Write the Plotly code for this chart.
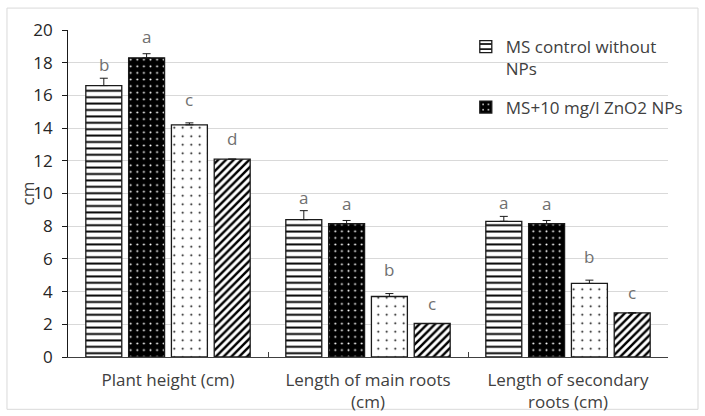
import plotly.graph_objects as go

categories = ["Plant height (cm)", "Length of main roots<br>(cm)", "Length of secondary<br>roots (cm)"]
series_names = ["MS control without<br>NPs", "MS+10 mg/l ZnO2 NPs", "Treatment 3", "Treatment 4"]
values = [
    [16.6, 8.4, 8.3],
    [18.3, 8.15, 8.15],
    [14.2, 3.7, 4.5],
    [12.1, 2.05, 2.7],
]
errors = [
    [0.45, 0.55, 0.3],
    [0.25, 0.2, 0.2],
    [0.12, 0.18, 0.2],
    [0.0, 0.0, 0.0],
]
letters = [
    ["b", "a", "a"],
    ["a", "a", "a"],
    ["c", "b", "b"],
    ["d", "c", "c"],
]

patterns = [
    dict(shape="-", fgcolor="#000000", bgcolor="#ffffff", size=6.4, solidity=0.3, fillmode="replace"),
    dict(shape=".", fgcolor="#ffffff", bgcolor="#000000", size=6.6, solidity=0.07, fillmode="replace"),
    dict(shape=".", fgcolor="#000000", bgcolor="#ffffff", size=8.5, solidity=0.04, fillmode="replace"),
    dict(shape="/", fgcolor="#000000", bgcolor="#ffffff", size=5.5, solidity=0.45, fillmode="replace"),
]
legend_ids = ["legend", "legend2", None, None]
letter_shift = [13.6, 17.2, 23.7, 20.4]

bargap = 0.144
bargroupgap = 0.16
FS = 17

fig = go.Figure()
for i in range(4):
    fig.add_trace(go.Bar(
        x=categories, y=values[i], name=series_names[i],
        marker=dict(color=patterns[i]["bgcolor"], pattern=patterns[i],
                    line=dict(color="#1a1a1a", width=1.3)),
        error_y=dict(type="data", array=errors[i], arrayminus=[0] * 3, symmetric=False,
                     color="#1a1a1a", thickness=1, width=4, visible=True),
        showlegend=legend_ids[i] is not None,
        legend=legend_ids[i] if legend_ids[i] else "legend",
    ))

slot = (1 - bargap) / 4
for i in range(4):
    for j in range(3):
        fig.add_annotation(
            x=j + (i - 1.5) * slot, y=values[i][j] + errors[i][j],
            xref="x", yref="y", text=letters[i][j], showarrow=False,
            yanchor="middle", yshift=letter_shift[i],
            font=dict(size=FS, color="#707070", family="Open Sans"),
        )

fig.add_annotation(
    x=0, y=0.5, xref="paper", yref="paper", text="cm", textangle=-90,
    showarrow=False, xanchor="center", yanchor="middle", xshift=-41,
    font=dict(size=FS, color="#404040"),
)

fig.add_shape(type="rect", xref="paper", yref="paper",
              x0=-0.1017, x1=1.05, y0=-0.16, y1=1.067,
              line=dict(color="#d9d9d9", width=1), fillcolor="rgba(0,0,0,0)", layer="below")

fig.update_layout(
    width=705, height=416,
    margin=dict(l=68, r=37, t=30, b=59, autoexpand=False),
    paper_bgcolor="white", plot_bgcolor="white",
    font=dict(family="Open Sans", size=FS, color="#404040"),
    barmode="group", bargap=bargap, bargroupgap=bargroupgap,
    legend=dict(x=0.663, y=1.003, xanchor="left", yanchor="top", valign="top",
                bgcolor="rgba(0,0,0,0)", font=dict(size=FS, color="#404040")),
    legend2=dict(x=0.663, y=0.818, xanchor="left", yanchor="top", valign="top",
                 bgcolor="rgba(0,0,0,0)", font=dict(size=FS, color="#404040")),
    xaxis=dict(showline=True, linecolor="#404040", linewidth=1.3, ticks="inside",
               tickson="boundaries", ticklen=5, tickcolor="#404040", showgrid=False,
               ticklabelstandoff=7, automargin=False,
               tickfont=dict(size=FS, color="#404040")),
    yaxis=dict(range=[0, 20], dtick=2, showline=True, linecolor="#1a1a1a", linewidth=1.3,
               ticks="outside", ticklen=5, tickcolor="#1a1a1a", showgrid=True,
               gridcolor="#d9d9d9", gridwidth=1, zeroline=False,
               ticksuffix="\u2009\u2009", automargin=False,
               tickfont=dict(size=FS, color="#262626")),
)

fig.write_html("out.html")
